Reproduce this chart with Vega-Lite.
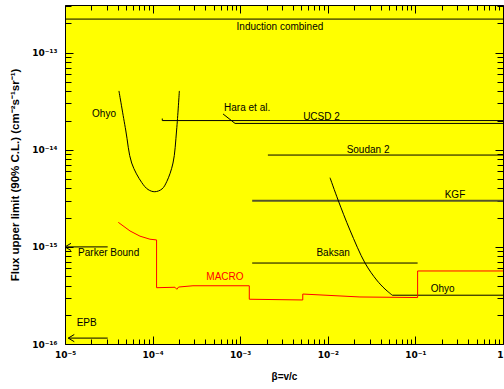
{
  "$schema": "https://vega.github.io/schema/vega-lite/v6.json",
  "width": 438,
  "height": 339,
  "autosize": "none",
  "padding": {"left": 65, "top": 5, "right": 1, "bottom": 45},
  "background": "white",
  "config": {
    "view": {"stroke": "black", "strokeWidth": 1, "fill": "#ffff00"},
    "axis": {"domain": false, "grid": false, "tickColor": "black", "labelColor": "black", "labelFont": "DejaVu Sans", "labelFontWeight": "bold", "labelFontSize": 9, "titleFont": "Liberation Sans", "titleColor": "black", "titleFontWeight": "bold"},
    "text": {"font": "Liberation Sans", "fontSize": 10}
  },
  "datasets": {
    "lines": [
      {"s": "Induction", "i": 0, "b": 1e-5, "f": 2.22e-13},
      {"s": "Induction", "i": 1, "b": 1, "f": 2.22e-13},
      {"s": "Hara", "i": 0, "b": 6.37e-4, "f": 2.34e-14},
      {"s": "Hara", "i": 1, "b": 8.73e-4, "f": 1.87e-14},
      {"s": "Hara", "i": 2, "b": 1, "f": 1.87e-14},
      {"s": "UCSD", "i": 0, "b": 1.29e-4, "f": 2.1e-14},
      {"s": "UCSD", "i": 1, "b": 1.29e-4, "f": 2.0e-14},
      {"s": "UCSD", "i": 2, "b": 1, "f": 2.0e-14},
      {"s": "Soudan", "i": 0, "b": 2.07e-3, "f": 8.83e-15},
      {"s": "Soudan", "i": 1, "b": 1, "f": 8.83e-15},
      {"s": "KGF", "i": 0, "b": 1.37e-3, "f": 2.99e-15},
      {"s": "KGF", "i": 1, "b": 1, "f": 2.99e-15},
      {"s": "Baksan", "i": 0, "b": 1.37e-3, "f": 6.82e-16},
      {"s": "Baksan", "i": 1, "b": 0.106, "f": 6.82e-16},
      {"s": "OhyoRflat", "i": 0, "b": 5.45e-2, "f": 3.18e-16},
      {"s": "OhyoRflat", "i": 1, "b": 1, "f": 3.18e-16},
      {"s": "Parker", "i": 0, "b": 1e-5, "f": 1e-15},
      {"s": "Parker", "i": 1, "b": 3.07e-5, "f": 1e-15},
      {"s": "EPB", "i": 0, "b": 1.09e-5, "f": 1.15e-16},
      {"s": "EPB", "i": 1, "b": 3.07e-5, "f": 1.15e-16},
      {"s": "MACRO", "i": 0, "b": 4.06e-5, "f": 1.79e-15},
      {"s": "MACRO", "i": 1, "b": 5.52e-5, "f": 1.46e-15},
      {"s": "MACRO", "i": 2, "b": 7.18e-5, "f": 1.29e-15},
      {"s": "MACRO", "i": 3, "b": 9.33e-5, "f": 1.2e-15},
      {"s": "MACRO", "i": 4, "b": 1.11e-4, "f": 1.18e-15},
      {"s": "MACRO", "i": 5, "b": 1.11e-4, "f": 3.8e-16},
      {"s": "MACRO", "i": 6, "b": 1.8e-4, "f": 3.84e-16},
      {"s": "MACRO", "i": 7, "b": 1.89e-4, "f": 3.66e-16},
      {"s": "MACRO", "i": 8, "b": 1.98e-4, "f": 3.86e-16},
      {"s": "MACRO", "i": 9, "b": 2.89e-4, "f": 3.98e-16},
      {"s": "MACRO", "i": 10, "b": 1.27e-3, "f": 3.98e-16},
      {"s": "MACRO", "i": 11, "b": 1.27e-3, "f": 2.89e-16},
      {"s": "MACRO", "i": 12, "b": 5.18e-3, "f": 2.84e-16},
      {"s": "MACRO", "i": 13, "b": 5.18e-3, "f": 3.27e-16},
      {"s": "MACRO", "i": 14, "b": 2.33e-2, "f": 3.05e-16},
      {"s": "MACRO", "i": 15, "b": 0.106, "f": 3.01e-16},
      {"s": "MACRO", "i": 16, "b": 0.106, "f": 5.65e-16},
      {"s": "MACRO", "i": 17, "b": 1, "f": 5.65e-16}
    ],
    "curves": [
      {"s": "OhyoL", "i": 0, "b": 4.13e-5, "f": 4.04e-14},
      {"s": "OhyoL", "i": 1, "b": 4.93e-5, "f": 1.6e-14},
      {"s": "OhyoL", "i": 2, "b": 5.77e-5, "f": 7.31e-15},
      {"s": "OhyoL", "i": 3, "b": 7.52e-5, "f": 4.6e-15},
      {"s": "OhyoL", "i": 4, "b": 8.87e-5, "f": 3.9e-15},
      {"s": "OhyoL", "i": 5, "b": 1.06e-4, "f": 3.7e-15},
      {"s": "OhyoL", "i": 6, "b": 1.28e-4, "f": 3.95e-15},
      {"s": "OhyoL", "i": 7, "b": 1.45e-4, "f": 4.7e-15},
      {"s": "OhyoL", "i": 8, "b": 1.71e-4, "f": 7.31e-15},
      {"s": "OhyoL", "i": 9, "b": 1.88e-4, "f": 1.6e-14},
      {"s": "OhyoL", "i": 10, "b": 2.02e-4, "f": 4.04e-14},
      {"s": "OhyoR", "i": 0, "b": 1.06e-2, "f": 5.16e-15},
      {"s": "OhyoR", "i": 1, "b": 1.31e-2, "f": 3.04e-15},
      {"s": "OhyoR", "i": 2, "b": 1.79e-2, "f": 1.49e-15},
      {"s": "OhyoR", "i": 3, "b": 2.66e-2, "f": 6.82e-16},
      {"s": "OhyoR", "i": 4, "b": 3.61e-2, "f": 4.56e-16},
      {"s": "OhyoR", "i": 5, "b": 4.5e-2, "f": 3.68e-16},
      {"s": "OhyoR", "i": 6, "b": 5.45e-2, "f": 3.18e-16}
    ],
    "labels": [
      {"t": "Induction combined", "b": 2.84e-3, "f": 1.84e-13, "a": "center", "c": "black"},
      {"t": "Ohyo", "b": 2.79e-5, "f": 2.34e-14, "a": "center", "c": "black"},
      {"t": "Hara et al.", "b": 1.2e-3, "f": 2.69e-14, "a": "center", "c": "black"},
      {"t": "UCSD 2", "b": 8.47e-3, "f": 2.2e-14, "a": "center", "c": "black"},
      {"t": "Soudan 2", "b": 2.88e-2, "f": 9.96e-15, "a": "center", "c": "black"},
      {"t": "KGF", "b": 0.283, "f": 3.43e-15, "a": "center", "c": "black"},
      {"t": "Baksan", "b": 1.15e-2, "f": 8.65e-16, "a": "center", "c": "black"},
      {"t": "Ohyo", "b": 0.205, "f": 3.68e-16, "a": "center", "c": "black"},
      {"t": "Parker Bound", "b": 1.41e-5, "f": 8.65e-16, "a": "left", "c": "black"},
      {"t": "EPB", "b": 1.36e-5, "f": 1.63e-16, "a": "left", "c": "black"},
      {"t": "MACRO", "b": 6.7e-4, "f": 4.93e-16, "a": "center", "c": "red"}
    ],
    "arrows": [
      {"s": "Parker", "b": 1e-5, "f": 1e-15},
      {"s": "EPB", "b": 1.09e-5, "f": 1.15e-16}
    ]
  },
  "resolve": {"axis": {"x": "independent", "y": "independent"}},
  "layer": [
    {
      "data": {"name": "lines"},
      "transform": [{"filter": "datum.s !== 'MACRO' && datum.s !== 'KGF'"}],
      "mark": {"type": "line", "color": "black", "strokeWidth": 1, "clip": true},
      "encoding": {
        "x": {"field": "b", "type": "quantitative", "scale": {"type": "log", "domain": [1e-5, 1], "nice": false},
          "axis": {"orient": "bottom", "values": [1e-5, 1e-4, 1e-3, 1e-2, 1e-1, 1], "tickSize": -8, "labelPadding": 14, "labelFlush": false,
            "labelAlign": {"condition": {"test": "datum.value > 0.5", "value": "right"}, "value": "center"},
            "labelExpr": "datum.value < 5e-5 ? '10⁻⁵' : datum.value < 5e-4 ? '10⁻⁴' : datum.value < 5e-3 ? '10⁻³' : datum.value < 5e-2 ? '10⁻²' : datum.value < 0.5 ? '10⁻¹' : '1'",
            "title": "β=v/c", "titleFontSize": 10, "titlePadding": 12}},
        "y": {"field": "f", "type": "quantitative", "scale": {"type": "log", "domain": [1e-16, 3.1e-13], "nice": false},
          "axis": {"orient": "left", "values": [1e-16, 1e-15, 1e-14, 1e-13], "tickSize": -8, "labelPadding": 16,
            "labelExpr": "datum.value < 5e-16 ? '10⁻¹⁶' : datum.value < 5e-15 ? '10⁻¹⁵' : datum.value < 5e-14 ? '10⁻¹⁴' : '10⁻¹³'",
            "title": "Flux upper limit (90% C.L.)  (cm⁻²s⁻¹sr⁻¹)", "titleFontSize": 11.5, "titlePadding": 11}},
        "detail": {"field": "s"},
        "order": {"field": "i", "type": "quantitative"}
      }
    },
    {
      "data": {"name": "lines"},
      "transform": [{"filter": "datum.s === 'KGF'"}],
      "mark": {"type": "line", "color": "#55552a", "strokeWidth": 2, "clip": true},
      "encoding": {
        "x": {"field": "b", "type": "quantitative", "scale": {"type": "log", "domain": [1e-5, 1], "nice": false},
          "axis": {"orient": "top", "values": [1e-5, 1e-4, 1e-3, 1e-2, 1e-1, 1], "tickSize": -8, "labels": false, "title": null}},
        "y": {"field": "f", "type": "quantitative", "scale": {"type": "log", "domain": [1e-16, 3.1e-13], "nice": false},
          "axis": {"orient": "right", "values": [1e-16, 1e-15, 1e-14, 1e-13], "tickSize": -8, "labels": false, "title": null}},
        "order": {"field": "i", "type": "quantitative"}
      }
    },
    {
      "data": {"name": "lines"},
      "transform": [{"filter": "datum.s === 'MACRO'"}],
      "mark": {"type": "line", "color": "#ff0000", "strokeWidth": 1, "clip": true},
      "encoding": {
        "x": {"field": "b", "type": "quantitative", "scale": {"type": "log", "domain": [1e-5, 1], "nice": false},
          "axis": {"orient": "bottom", "values": [2e-5,3e-5,4e-5,5e-5,6e-5,7e-5,8e-5,9e-5,2e-4,3e-4,4e-4,5e-4,6e-4,7e-4,8e-4,9e-4,2e-3,3e-3,4e-3,5e-3,6e-3,7e-3,8e-3,9e-3,2e-2,3e-2,4e-2,5e-2,6e-2,7e-2,8e-2,9e-2,0.2,0.3,0.4,0.5,0.6,0.7,0.8,0.9], "tickSize": -5, "labels": false, "title": null}},
        "y": {"field": "f", "type": "quantitative", "scale": {"type": "log", "domain": [1e-16, 3.1e-13], "nice": false},
          "axis": {"orient": "left", "values": [2e-16,3e-16,4e-16,5e-16,6e-16,7e-16,8e-16,9e-16,2e-15,3e-15,4e-15,5e-15,6e-15,7e-15,8e-15,9e-15,2e-14,3e-14,4e-14,5e-14,6e-14,7e-14,8e-14,9e-14,2e-13,3e-13], "tickSize": -6, "labels": false, "title": null}},
        "order": {"field": "i", "type": "quantitative"}
      }
    },
    {
      "data": {"name": "labels"},
      "transform": [{"filter": "datum.a === 'center'"}],
      "mark": {"type": "text", "align": "center", "baseline": "middle"},
      "encoding": {
        "x": {"field": "b", "type": "quantitative", "scale": {"type": "log", "domain": [1e-5, 1], "nice": false},
          "axis": {"orient": "top", "values": [2e-5,3e-5,4e-5,5e-5,6e-5,7e-5,8e-5,9e-5,2e-4,3e-4,4e-4,5e-4,6e-4,7e-4,8e-4,9e-4,2e-3,3e-3,4e-3,5e-3,6e-3,7e-3,8e-3,9e-3,2e-2,3e-2,4e-2,5e-2,6e-2,7e-2,8e-2,9e-2,0.2,0.3,0.4,0.5,0.6,0.7,0.8,0.9], "tickSize": -5, "labels": false, "title": null}},
        "y": {"field": "f", "type": "quantitative", "scale": {"type": "log", "domain": [1e-16, 3.1e-13], "nice": false},
          "axis": {"orient": "right", "values": [2e-16,3e-16,4e-16,5e-16,6e-16,7e-16,8e-16,9e-16,2e-15,3e-15,4e-15,5e-15,6e-15,7e-15,8e-15,9e-15,2e-14,3e-14,4e-14,5e-14,6e-14,7e-14,8e-14,9e-14,2e-13,3e-13], "tickSize": -6, "labels": false, "title": null}},
        "text": {"field": "t"},
        "color": {"field": "c", "type": "nominal", "scale": null}
      }
    },
    {
      "data": {"name": "labels"},
      "transform": [{"filter": "datum.a === 'left'"}],
      "mark": {"type": "text", "align": "left", "baseline": "middle", "color": "black"},
      "encoding": {
        "x": {"field": "b", "type": "quantitative", "scale": {"type": "log", "domain": [1e-5, 1], "nice": false}, "axis": null},
        "y": {"field": "f", "type": "quantitative", "scale": {"type": "log", "domain": [1e-16, 3.1e-13], "nice": false}, "axis": null},
        "text": {"field": "t"}
      }
    },
    {
      "data": {"name": "curves"},
      "mark": {"type": "line", "color": "black", "strokeWidth": 1, "interpolate": "catmull-rom", "clip": true},
      "encoding": {
        "x": {"field": "b", "type": "quantitative", "scale": {"type": "log", "domain": [1e-5, 1], "nice": false}, "axis": null},
        "y": {"field": "f", "type": "quantitative", "scale": {"type": "log", "domain": [1e-16, 3.1e-13], "nice": false}, "axis": null},
        "detail": {"field": "s"},
        "order": {"field": "i", "type": "quantitative"}
      }
    },
    {
      "data": {"name": "arrows"},
      "mark": {"type": "point", "shape": "M0,0L1,-0.6M0,0L1,0.6", "size": 144, "filled": false, "stroke": "black", "strokeWidth": 1, "opacity": 1},
      "encoding": {
        "x": {"field": "b", "type": "quantitative", "scale": {"type": "log", "domain": [1e-5, 1], "nice": false}, "axis": null},
        "y": {"field": "f", "type": "quantitative", "scale": {"type": "log", "domain": [1e-16, 3.1e-13], "nice": false}, "axis": null}
      }
    }
  ]
}
